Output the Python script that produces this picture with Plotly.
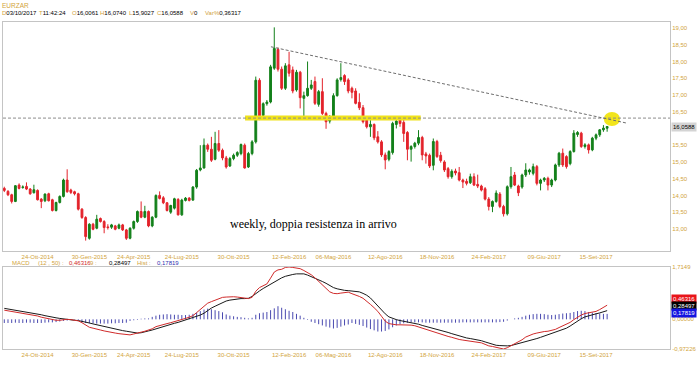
import pandas as pd
import plotly.graph_objects as go

# ---------------- data ----------------
week_start = "2014-08-22"
n_weeks = 164
dates = pd.date_range(week_start, periods=n_weeks, freq="7D")

opens = [
    14.21, 14.12, 14.02, 13.82, 14.31, 14.24, 14.27, 14.19, 14.08, 14.15,
    13.89, 13.84, 14.05, 13.87, 13.55, 13.79, 13.97, 14.46, 14.16, 14.11,
    14.05, 13.59, 13.34, 12.72, 13.14, 13.02, 13.31, 13.22, 13.06, 13.05,
    13.09, 13.02, 13.12, 12.97, 12.72, 13.02, 13.22, 13.52, 13.35, 13.52,
    13.09, 13.35, 14.00, 13.93, 13.78, 13.50, 13.62, 13.88, 13.42, 13.85,
    13.92, 13.86, 14.25, 14.76, 14.82, 15.50, 15.38, 15.08, 15.55, 15.35,
    15.12, 14.88, 15.10, 15.20, 15.25, 15.50, 14.85, 15.25, 15.60, 17.44,
    16.39, 16.74, 16.79, 17.80, 18.36, 17.77, 17.20, 17.90, 17.75, 17.15,
    17.68, 16.90, 16.98, 17.20, 17.40, 16.72, 17.10, 16.45, 16.22, 16.32,
    16.98, 17.46, 17.58, 17.45, 17.20, 17.12, 16.78, 16.62, 16.25, 16.05,
    16.12, 15.75, 15.60, 15.21, 15.08, 15.28, 16.12, 16.25, 16.18, 15.88,
    15.38, 15.46, 15.56, 15.73, 15.24, 15.20, 14.90, 15.61, 15.20, 15.00,
    14.80, 14.56, 14.73, 14.68, 14.46, 14.42, 14.38, 14.56, 14.33, 14.28,
    14.20, 13.89, 13.67, 13.82, 14.04, 13.67, 13.45, 14.26, 14.61, 14.28,
    14.25, 14.61, 14.70, 14.66, 14.86, 14.36, 14.46, 14.51, 14.31, 14.46,
    14.91, 15.26, 15.16, 14.95, 15.31, 15.82, 15.86, 15.46, 15.51, 15.36,
    15.71, 15.81, 15.96, 16.0061,
]
highs = [
    14.26, 14.16, 14.05, 14.31, 14.36, 14.30, 14.39, 14.22, 14.32, 14.18,
    13.92, 14.06, 14.08, 13.90, 13.81, 14.00, 14.50, 14.78, 14.20, 14.14,
    14.08, 13.62, 13.38, 13.17, 13.18, 13.42, 13.34, 13.26, 13.14, 13.15,
    13.12, 13.16, 13.15, 13.00, 13.05, 13.25, 13.55, 13.82, 13.69, 13.55,
    13.38, 14.03, 14.12, 13.98, 13.80, 13.72, 13.93, 13.92, 13.90, 13.95,
    13.95, 14.28, 14.79, 15.50, 15.70, 15.55, 15.75, 15.90, 15.95, 15.40,
    15.18, 15.15, 15.25, 15.32, 15.55, 15.55, 15.30, 15.65, 17.55, 17.50,
    16.78, 16.85, 17.90, 19.02, 18.42, 17.85, 17.95, 18.29, 17.85, 17.75,
    17.72, 17.10, 18.00, 17.45, 17.55, 17.15, 17.50, 16.50, 16.40, 17.05,
    17.50, 17.95, 17.62, 17.50, 17.25, 17.20, 17.05, 16.70, 16.30, 16.25,
    16.15, 15.92, 15.65, 15.28, 15.35, 16.20, 16.35, 16.32, 16.35, 15.92,
    15.50, 15.60, 15.95, 15.78, 15.30, 15.25, 15.70, 15.66, 15.30, 15.05,
    14.85, 14.78, 14.80, 14.85, 14.50, 14.50, 14.65, 14.66, 14.62, 14.32,
    14.25, 13.95, 13.85, 14.15, 14.10, 13.72, 14.30, 14.85, 14.70, 14.32,
    14.65, 14.96, 14.80, 14.95, 14.91, 14.50, 14.55, 14.56, 14.50, 14.95,
    15.30, 15.40, 15.20, 15.35, 15.95, 15.92, 15.90, 15.56, 15.55, 15.75,
    15.85, 15.98, 16.10, 16.0740,
]
lows = [
    14.10, 13.98, 13.76, 13.80, 14.18, 14.20, 14.16, 14.02, 14.06, 13.85,
    13.62, 13.80, 13.82, 13.52, 13.52, 13.76, 13.94, 14.08, 14.04, 14.00,
    13.55, 13.30, 12.65, 12.68, 12.96, 12.99, 13.19, 12.87, 12.98, 13.00,
    12.96, 12.99, 12.94, 12.67, 12.69, 12.98, 13.18, 13.32, 13.32, 13.05,
    13.05, 13.32, 13.88, 13.74, 13.52, 13.45, 13.58, 13.40, 13.39, 13.82,
    13.82, 13.84, 14.20, 14.72, 14.80, 15.30, 15.00, 15.05, 15.30, 15.05,
    14.80, 14.85, 15.05, 15.15, 15.20, 14.80, 14.82, 15.20, 15.55, 16.25,
    16.30, 16.68, 16.75, 17.75, 17.70, 17.15, 17.15, 17.55, 17.05, 17.10,
    16.60, 16.30, 16.95, 17.15, 16.70, 16.65, 16.40, 15.99, 16.15, 16.28,
    16.95, 17.40, 17.30, 17.05, 16.90, 16.72, 16.55, 16.15, 16.00, 15.75,
    15.65, 15.55, 15.15, 14.78, 15.02, 15.22, 16.00, 16.05, 15.60, 15.05,
    15.01, 15.40, 15.50, 15.05, 14.95, 14.82, 14.75, 15.12, 14.98, 14.70,
    14.50, 14.50, 14.60, 14.42, 14.22, 14.30, 14.34, 14.28, 14.22, 14.12,
    13.85, 13.55, 13.50, 13.78, 13.62, 13.37, 13.40, 14.20, 14.28, 13.98,
    14.20, 14.55, 14.62, 14.60, 14.30, 14.15, 14.40, 14.15, 14.25, 14.42,
    14.85, 14.85, 14.80, 14.90, 15.28, 15.75, 15.42, 15.40, 15.25, 15.32,
    15.65, 15.75, 15.90, 15.9027,
]
closes = [
    14.15, 14.02, 13.82, 14.29, 14.21, 14.25, 14.19, 14.05, 14.17, 13.87,
    13.82, 14.04, 13.84, 13.55, 13.79, 13.97, 14.46, 14.11, 14.09, 14.05,
    13.59, 13.34, 12.77, 13.14, 12.99, 13.29, 13.22, 13.04, 13.04, 13.12,
    12.99, 13.12, 12.97, 12.72, 13.02, 13.22, 13.52, 13.35, 13.52, 13.09,
    13.35, 14.00, 13.91, 13.78, 13.55, 13.70, 13.90, 13.42, 13.86, 13.92,
    13.85, 14.25, 14.75, 14.82, 15.50, 15.38, 15.05, 15.55, 15.35, 15.12,
    14.85, 15.10, 15.20, 15.28, 15.52, 14.82, 15.25, 15.60, 17.44, 16.30,
    16.74, 16.79, 17.84, 18.39, 17.77, 17.20, 17.87, 17.65, 17.12, 17.68,
    16.92, 16.98, 17.20, 17.30, 16.75, 17.10, 16.45, 16.20, 16.32, 16.98,
    17.45, 17.52, 17.40, 17.12, 17.08, 16.75, 16.62, 16.20, 16.05, 16.12,
    15.72, 15.60, 15.21, 15.06, 15.31, 16.15, 16.22, 16.15, 15.85, 15.38,
    15.46, 15.56, 15.73, 15.21, 15.18, 14.88, 15.61, 15.16, 15.04, 14.76,
    14.56, 14.72, 14.67, 14.46, 14.40, 14.36, 14.56, 14.31, 14.28, 14.16,
    13.89, 13.67, 13.82, 14.07, 13.67, 13.45, 14.26, 14.56, 14.31, 14.08,
    14.61, 14.76, 14.76, 14.86, 14.36, 14.46, 14.51, 14.31, 14.46, 14.91,
    15.26, 14.91, 14.86, 15.31, 15.86, 15.88, 15.46, 15.51, 15.36, 15.71,
    15.81, 15.96, 16.01, 16.0588,
]

macd_line = [
    0.30, 0.28, 0.26, 0.25, 0.23, 0.21, 0.19, 0.17, 0.14, 0.11,
    0.07, 0.04, 0.01, -0.02, -0.03, -0.03, -0.01, 0.00, -0.01, -0.02,
    -0.05, -0.11, -0.20, -0.26, -0.29, -0.31, -0.35, -0.38, -0.41, -0.43,
    -0.45, -0.47, -0.49, -0.51, -0.51, -0.48, -0.44, -0.42, -0.39, -0.36,
    -0.31, -0.24, -0.20, -0.17, -0.14, -0.11, -0.08, -0.05, -0.02, 0.03,
    0.07, 0.12, 0.22, 0.32, 0.44, 0.53, 0.58, 0.63, 0.68, 0.72,
    0.73, 0.74, 0.74, 0.73, 0.72, 0.70, 0.68, 0.72, 0.92, 1.04,
    1.10, 1.16, 1.35, 1.55, 1.62, 1.64, 1.70, 1.7149, 1.70, 1.69,
    1.66, 1.60, 1.53, 1.46, 1.36, 1.25, 1.12, 1.00, 0.90, 0.85,
    0.84, 0.86, 0.88, 0.89, 0.84, 0.80, 0.75, 0.69, 0.60, 0.49,
    0.38, 0.26, 0.10, -0.06, -0.14, -0.17, -0.18, -0.18, -0.18, -0.18,
    -0.19, -0.21, -0.25, -0.29, -0.33, -0.38, -0.42, -0.45, -0.48, -0.52,
    -0.56, -0.59, -0.63, -0.66, -0.68, -0.70, -0.71, -0.72, -0.74, -0.77,
    -0.82, -0.87, -0.89, -0.91, -0.94, -0.97226, -0.93, -0.87, -0.80, -0.75,
    -0.67, -0.58, -0.52, -0.48, -0.45, -0.42, -0.40, -0.39, -0.37, -0.33,
    -0.27, -0.22, -0.16, -0.10, -0.01, 0.08, 0.14, 0.19, 0.21, 0.23,
    0.26, 0.32, 0.38, 0.46316,
]
signal_line = [
    0.36, 0.34, 0.32, 0.31, 0.29, 0.27, 0.25, 0.23, 0.21, 0.19,
    0.15, 0.12, 0.09, 0.07, 0.05, 0.03, 0.01, -0.01, -0.02, -0.03,
    -0.04, -0.06, -0.09, -0.12, -0.15, -0.18, -0.21, -0.24, -0.26, -0.29,
    -0.32, -0.35, -0.37, -0.39, -0.41, -0.43, -0.45, -0.44, -0.42, -0.38,
    -0.35, -0.31, -0.27, -0.23, -0.19, -0.16, -0.13, -0.10, -0.06, -0.02,
    0.01, 0.05, 0.10, 0.14, 0.20, 0.29, 0.37, 0.43, 0.49, 0.55,
    0.60, 0.63, 0.65, 0.67, 0.68, 0.68, 0.69, 0.75, 0.85, 0.93,
    1.01, 1.08, 1.16, 1.24, 1.30, 1.36, 1.41, 1.45, 1.47, 1.49,
    1.50, 1.49, 1.45, 1.40, 1.36, 1.30, 1.24, 1.18, 1.10, 1.04,
    1.00, 0.97, 0.95, 0.94, 0.93, 0.92, 0.90, 0.85, 0.79, 0.70,
    0.57, 0.44, 0.30, 0.18, 0.08, 0.03, -0.01, -0.04, -0.06, -0.08,
    -0.10, -0.13, -0.16, -0.20, -0.23, -0.27, -0.30, -0.33, -0.37, -0.40,
    -0.43, -0.47, -0.51, -0.55, -0.58, -0.61, -0.63, -0.65, -0.67, -0.70,
    -0.74, -0.78, -0.82, -0.85, -0.86, -0.87, -0.87, -0.86, -0.83, -0.80,
    -0.77, -0.73, -0.70, -0.67, -0.63, -0.59, -0.55, -0.51, -0.47, -0.43,
    -0.39, -0.35, -0.29, -0.22, -0.14, -0.05, 0.02, 0.08, 0.12, 0.15,
    0.18, 0.21, 0.25, 0.28497,
]
hist_bars = [
    -0.12, -0.12, -0.12, -0.11, -0.12, -0.12, -0.11, -0.11, -0.12, -0.12,
    -0.12, -0.11, -0.10, -0.10, -0.09, -0.07, -0.05, -0.04, -0.02, -0.01,
    -0.03, -0.10, -0.12, -0.13, -0.13, -0.14, -0.14, -0.14, -0.14, -0.13,
    -0.13, -0.12, -0.12, -0.11, -0.05, -0.03, -0.02, 0.02, 0.03, 0.03,
    0.08, 0.12, 0.15, 0.16, 0.17, 0.16, 0.15, 0.15, 0.14, 0.14,
    0.15, 0.18, 0.22, 0.27, 0.32, 0.35, 0.33, 0.30, 0.27, 0.23,
    0.16, 0.12, 0.10, 0.08, 0.07, 0.05, 0.03, 0.05, 0.15, 0.20,
    0.22, 0.24, 0.30, 0.36, 0.43, 0.38, 0.33, 0.28, 0.24, 0.18,
    0.12, 0.05, -0.02, -0.08, -0.12, -0.16, -0.20, -0.24, -0.27, -0.30,
    -0.28, -0.24, -0.20, -0.17, -0.12, -0.15, -0.18, -0.22, -0.27, -0.32,
    -0.36, -0.40, -0.40, -0.38, -0.33, -0.26, -0.20, -0.16, -0.13, -0.11,
    -0.10, -0.10, -0.10, -0.10, -0.11, -0.11, -0.11, -0.11, -0.11, -0.11,
    -0.11, -0.11, -0.11, -0.11, -0.10, -0.10, -0.10, -0.10, -0.10, -0.10,
    -0.10, -0.10, -0.10, -0.10, -0.09, -0.08, -0.04, 0.00, 0.03, 0.05,
    0.08, 0.12, 0.15, 0.17, 0.18, 0.18, 0.17, 0.15, 0.14, 0.15,
    0.17, 0.19, 0.20, 0.21, 0.24, 0.27, 0.28, 0.27, 0.24, 0.22,
    0.20, 0.19, 0.18, 0.17819,
]

tick_dates = ["2014-10-24", "2015-01-30", "2015-04-24", "2015-07-24", "2015-10-30", "2016-02-12",
              "2016-05-06", "2016-08-12", "2016-11-18", "2017-02-24", "2017-06-09", "2017-09-15"]
tick_text = ["24-Ott-2014", "30-Gen-2015", "24-Apr-2015", "24-Lug-2015", "30-Ott-2015", "12-Feb-2016",
             "06-Mag-2016", "12-Ago-2016", "18-Nov-2016", "24-Feb-2017", "09-Giu-2017", "15-Set-2017"]
# 16,00 is hidden behind the last-price box in the original, so it is not listed
price_ticks = [13.0, 13.5, 14.0, 14.5, 15.0, 15.5, 16.5, 17.0, 17.5, 18.0, 18.5, 19.0]

resistance_level = 16.31
trend_start = (73.1, 18.44)   # (week index, price)
trend_end = (169.3, 16.16)
band_weeks = (66.1, 113.6)
last_close = 16.0588

# ---------------- style ----------------
GREEN = "#13801a"
RED = "#e3232b"
GOLD = "#d2a43c"
FRAME = "#c4c4c4"
FONT = "Liberation Sans"
FS = 6


def at(i):
    return (pd.Timestamp(week_start) + pd.Timedelta(days=7 * (i - 1))).isoformat()


W, H = 700, 365
ML, MR, MT, MB = 3, 30, 22, 16
PH = H - MT - MB


def py(y_px):
    return (H - MB - y_px) / PH


def px(x_px):
    return (x_px - ML) / (W - ML - MR)


fig = go.Figure()

fig.add_trace(go.Candlestick(
    x=dates, open=opens, high=highs, low=lows, close=closes,
    increasing=dict(line=dict(color=GREEN, width=1), fillcolor=GREEN),
    decreasing=dict(line=dict(color=RED, width=1), fillcolor=RED),
    whiskerwidth=0, showlegend=False, xaxis="x", yaxis="y", hoverinfo="skip",
))

# histogram drawn as thin vertical strokes from zero to each value
hx, hy = [], []
for d, v in zip(dates, hist_bars):
    hx += [d, d, None]
    hy += [0, v, None]
fig.add_trace(go.Scatter(
    x=hx, y=hy, mode="lines", line=dict(color="#4a4ab0", width=1),
    showlegend=False, xaxis="x2", yaxis="y2", hoverinfo="skip",
))
fig.add_trace(go.Scatter(
    x=dates, y=signal_line, mode="lines", line=dict(color="#1a1a1a", width=1),
    showlegend=False, xaxis="x2", yaxis="y2",
))
fig.add_trace(go.Scatter(
    x=dates, y=macd_line, mode="lines", line=dict(color="#d02a2a", width=1),
    showlegend=False, xaxis="x2", yaxis="y2",
))

xr = [at(0.65), at(181)]
axis_common = dict(showgrid=False, zeroline=False, showline=True, mirror=True,
                   linecolor=FRAME, linewidth=1, ticks="",
                   tickfont=dict(family=FONT, size=FS, color=GOLD))

fig.update_layout(
    width=W, height=H,
    margin=dict(l=ML, r=MR, t=MT, b=MB),
    paper_bgcolor="white", plot_bgcolor="white",
    separators=",.",
    showlegend=False,
    xaxis=dict(domain=[0, 1], anchor="y", type="date", range=xr,
               tickvals=tick_dates, ticktext=tick_text,
               rangeslider=dict(visible=False), **axis_common),
    yaxis=dict(domain=[py(251), 1], anchor="x", side="right", range=[12.34, 19.18],
               tickvals=price_ticks, tickformat=".2f", **axis_common),
    xaxis2=dict(domain=[0, 1], anchor="y2", type="date", range=xr,
                tickvals=tick_dates, ticktext=tick_text, **axis_common),
    yaxis2=dict(domain=[0, py(267)], anchor="x2", side="right",
                range=[-0.97226, 1.7149],
                tickvals=[1.7149, 0, -0.97226], ticktext=["1,7149", "0,00000", "-0,97226"],
                **axis_common),
)

shapes = [
    dict(type="line", xref="x", yref="y", x0=at(band_weeks[0]), x1=at(band_weeks[1]),
         y0=resistance_level, y1=resistance_level, line=dict(color="#f0e21a", width=5), layer="above"),
    dict(type="circle", xref="x", yref="y", x0=at(163.1), x1=at(167.5), y0=16.07, y1=16.49,
         fillcolor="#f2e51c", line=dict(width=0), layer="above"),
    dict(type="line", xref="paper", yref="y", x0=0, x1=1,
         y0=resistance_level, y1=resistance_level,
         line=dict(color="#8c8c8c", width=1, dash="3px,2px"), layer="above"),
    dict(type="line", xref="x", yref="y", x0=at(trend_start[0]), x1=at(trend_end[0]),
         y0=trend_start[1], y1=trend_end[1],
         line=dict(color="#6e6e6e", width=1, dash="3px,2px"), layer="above"),
]
fig.update_layout(shapes=shapes)

ann = []


def txt(x_px, y_px, text, color="black", size=FS, family=FONT, anchor="left"):
    ann.append(dict(xref="paper", yref="paper", x=px(x_px), y=py(y_px), text=text,
                    showarrow=False, xanchor=anchor, yanchor="middle",
                    font=dict(family=family, size=size, color=color)))


txt(0, 5, "EURZAR", GOLD, 6.5)
header = [(0, "D", "03/10/2017"), (37, "T", "11:42:24"), (70, "O", "16,0061"), (98, "H", "16,0740"),
          (127, "L", "15,9027"), (155, "C", "16,0588"), (188, "V", "0"), (203, "Var%", "0,36317")]
for xp, lab, val in header:
    txt(xp, 13.5, f"<span style='color:{GOLD}'>{lab}</span>{val}")

macd_head = [(10, "MACD", GOLD), (36, "(12 , 50) :", GOLD), (67, "0,46316", "#d02a2a"),
             (88, "9 :", GOLD), (107, "0,28497", "black"), (135, "Hist :", GOLD),
             (155, "0,17819", "#2f2fb0")]
for xp, t, c in macd_head:
    txt(xp, 262.5, t, c)


def box(y_px, text, bg, fg):
    ann.append(dict(xref="paper", yref="paper", x=px(671), y=py(y_px), text=text,
                    showarrow=False, xanchor="left", yanchor="middle", bgcolor=bg,
                    borderpad=1, font=dict(family=FONT, size=FS, color=fg)))


ann.append(dict(xref="paper", yref="y", x=px(671), y=last_close, text="16,0588",
                showarrow=False, xanchor="left", yanchor="middle", bgcolor="#d4d4d4",
                borderpad=1, font=dict(family=FONT, size=FS, color="black")))
box(299, "0,46316", "#e8141a", "white")
box(306, "0,28497", "#000000", "white")
box(313, "0,17819", "#1414e0", "white")

ann.append(dict(xref="paper", yref="paper", x=px(313.5), y=py(224.5),
                text="weekly, doppia resistenza in arrivo", showarrow=False,
                xanchor="center", yanchor="middle",
                font=dict(family="Liberation Serif", size=12, color="black")))

fig.update_layout(annotations=ann)

fig.write_html("out.html", config={"displayModeBar": False},
               post_script="document.body.style.margin='0px';")
